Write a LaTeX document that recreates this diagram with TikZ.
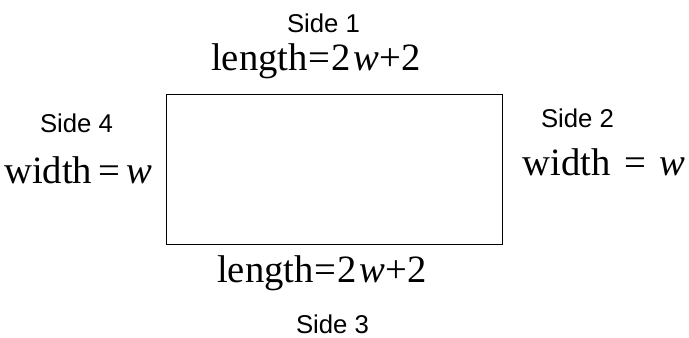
\documentclass[tikz,border=0pt]{standalone}
\usepackage{fontspec}
\setmainfont{Liberation Serif}
\setsansfont{Liberation Sans}
\usepackage{tikz}
\usetikzlibrary{positioning}

\begin{document}
\begin{tikzpicture}[
        x=0.75pt, y=-0.75pt,
        sidename/.style={anchor=base, inner sep=0pt,
          font=\sffamily\fontsize{19.3}{21}\selectfont},
        measure/.style={anchor=base, inner sep=0pt,
          font=\rmfamily\fontsize{29}{31}\selectfont}
      ]
        \useasboundingbox (0,0) rectangle (689,337);

        % The rectangle
        \draw[line width=0.75pt] (166,94) rectangle (502,244);

        % Top and bottom
        \node[sidename] (s1) at (323.5,32) {Side 1};
        \node[measure] (l1) at (316,70) {length\kern0.5pt=\kern0.5pt2\kern2pt\textit{w}\kern0.3pt+\kern0.3pt2};
        \node[measure] (l3) at (322,282) {length\kern0.5pt=\kern0.5pt2\kern2pt\textit{w}\kern0.3pt+\kern0.3pt2};
        \node[sidename] (s3) at (332.5,333) {Side 3};

        % Left and right
        \node[sidename] (s4) at (76.5,132) {Side 4};
        \node[measure] (w4) at (78,183) {width\kern4.5pt=\kern4.5pt\textit{w}};
        \node[sidename] (s2) at (577.5,127) {Side 2};
        \node[measure] (w2) at (604,175) {width\kern10pt=\kern10pt\textit{w}};
      \end{tikzpicture}
\end{document}
